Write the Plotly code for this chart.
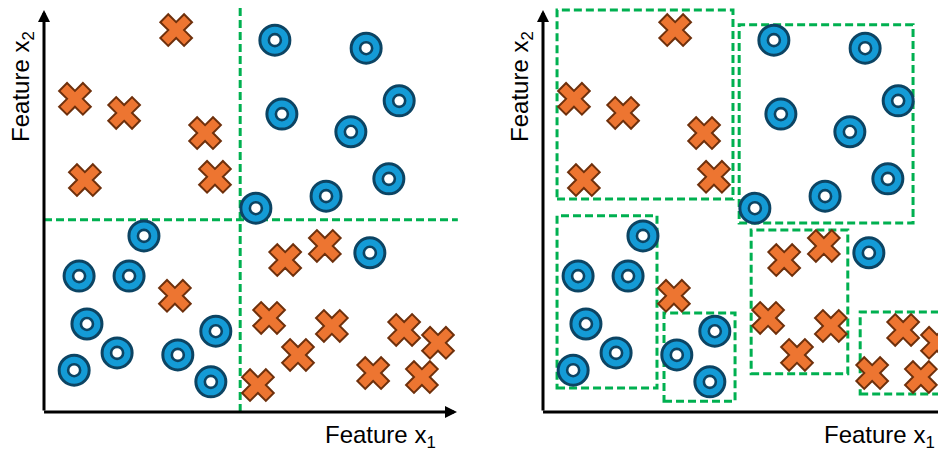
import plotly.graph_objects as go

# ---- data (feature units) ----
cross_x = [3.20, 0.75, 1.94, 3.90, 0.99, 4.14, 3.17, 5.84, 6.80, 5.45, 6.97, 6.15, 5.18, 8.72, 9.54, 7.97, 9.15]
cross_y = [9.50, 7.79, 7.44, 6.94, 5.77, 5.85, 2.89, 3.78, 4.13, 2.34, 2.14, 1.42, 0.67, 2.04, 1.72, 0.97, 0.87]

# right panel shows the same crosses except the one at (5.18, 0.67)
cross_x_right = [3.20, 0.75, 1.94, 3.90, 0.99, 4.14, 3.17, 5.84, 6.80, 5.45, 6.97, 6.15, 8.72, 9.54, 7.97, 9.15]
cross_y_right = [9.50, 7.79, 7.44, 6.94, 5.77, 5.85, 2.89, 3.78, 4.13, 2.34, 2.14, 1.42, 2.04, 1.72, 0.97, 0.87]

circle_x = [5.59, 7.80, 8.60, 5.76, 7.43, 8.35, 6.83, 5.13, 2.42, 0.85, 2.06, 1.04, 1.77, 0.73, 3.24, 4.16, 4.04, 7.89]
circle_y = [9.25, 9.05, 7.74, 7.41, 6.97, 5.80, 5.37, 5.07, 4.38, 3.38, 3.38, 2.19, 1.47, 1.04, 1.42, 2.01, 0.75, 3.96]

split_x1 = 4.75   # vertical decision boundary
split_x2 = 4.78   # horizontal decision boundary

# cluster boxes: x0, x1, y0, y1
box_x0 = [0.34, 4.75, 0.34, 2.93, 5.04, 7.68]
box_x1 = [4.60, 8.96, 2.76, 4.65, 7.38, 10.40]
box_y0 = [5.30, 4.70, 0.60, 0.27, 0.95, 0.45]
box_y1 = [10.00, 9.63, 4.88, 2.46, 4.53, 2.49]

axis_max = 10.0
x_label = "Feature x<sub>1</sub>"
y_label = "Feature x<sub>2</sub>"

# ---- styling / layout geometry (page body has an 8px margin) ----
W, H = 946, 452
ox_l, ox_r, oy = 36, 535, 404
sx, sy = 41.3, 40.2

ORANGE, ORANGE_LINE = "#ED7531", "#6E300C"
BLUE, BLUE_LINE = "#149BD6", "#0C4463"
GREEN = "#00B050"
FONT = "Liberation Sans, Arial, sans-serif"

fig = go.Figure()

panels = [("x", "y", cross_x, cross_y), ("x2", "y2", cross_x_right, cross_y_right)]
for xa, ya, cx, cy in panels:
    fig.add_trace(go.Scatter(
        x=circle_x, y=circle_y, mode="markers", xaxis=xa, yaxis=ya, cliponaxis=False,
        marker=dict(symbol="circle", size=30, color=BLUE, line=dict(color=BLUE_LINE, width=3)),
        hoverinfo="skip", showlegend=False))
    fig.add_trace(go.Scatter(
        x=circle_x, y=circle_y, mode="markers", xaxis=xa, yaxis=ya, cliponaxis=False,
        marker=dict(symbol="circle", size=12, color="white", line=dict(color=BLUE_LINE, width=2.6)),
        hoverinfo="skip", showlegend=False))
    fig.add_trace(go.Scatter(
        x=cx, y=cy, mode="markers", xaxis=xa, yaxis=ya, cliponaxis=False,
        marker=dict(symbol="x", size=28, color=ORANGE, line=dict(color=ORANGE_LINE, width=2)),
        hoverinfo="skip", showlegend=False))

dash = "8px,4px"
LW = 3
shapes = [
    dict(type="line", xref="x", yref="y", x0=split_x1, x1=split_x1, y0=0, y1=axis_max + 0.05,
         line=dict(color=GREEN, width=LW, dash=dash), layer="below"),
    dict(type="line", xref="x", yref="y", x0=0, x1=axis_max + 0.02, y0=split_x2, y1=split_x2,
         line=dict(color=GREEN, width=LW, dash=dash), layer="below"),
]
for a, b, c, d in zip(box_x0, box_x1, box_y0, box_y1):
    shapes.append(dict(type="rect", xref="x2", yref="y2", x0=a, x1=b, y0=c, y1=d,
                       line=dict(color=GREEN, width=LW, dash=dash),
                       fillcolor="rgba(0,0,0,0)", layer="below"))

annotations = []
for xa, ya in [("x", "y"), ("x2", "y2")]:
    # y axis arrow
    annotations.append(dict(xref=xa, yref=ya, axref=xa, ayref=ya, x=0, y=axis_max, ax=0, ay=0,
                            text="", showarrow=True, arrowhead=2, arrowwidth=3, arrowsize=0.8,
                            arrowcolor="black"))
    # x axis arrow
    annotations.append(dict(xref=xa, yref=ya, axref=xa, ayref=ya, x=axis_max, y=0, ax=-0.035, ay=0,
                            text="", showarrow=True, arrowhead=2, arrowwidth=3, arrowsize=0.8,
                            arrowcolor="black"))
    annotations.append(dict(xref=xa, yref=ya, x=9.54, y=-0.62, xanchor="right", yanchor="middle",
                            text=x_label, showarrow=False, font=dict(family=FONT, size=24, color="black")))
    annotations.append(dict(xref=xa, yref=ya, x=-0.51, y=8.11, xanchor="center", yanchor="middle",
                            text=y_label, textangle=-90, showarrow=False,
                            font=dict(family=FONT, size=24, color="black")))

axis_common = dict(visible=False, showgrid=False, zeroline=False, fixedrange=True)
fig.update_layout(
    width=W, height=H, margin=dict(l=0, r=0, t=0, b=0),
    paper_bgcolor="white", plot_bgcolor="white",
    xaxis=dict(domain=[0, 0.5], range=[(0 - ox_l) / sx, (W / 2 - ox_l) / sx], **axis_common),
    yaxis=dict(domain=[0, 1], range=[(oy - H) / sy, oy / sy], **axis_common),
    xaxis2=dict(domain=[0.5, 1], range=[(W / 2 - ox_r) / sx, (W - ox_r) / sx], anchor="y2", **axis_common),
    yaxis2=dict(domain=[0, 1], range=[(oy - H) / sy, oy / sy], anchor="x2", **axis_common),
    shapes=shapes, annotations=annotations, showlegend=False,
)

fig.write_html("out.html")
